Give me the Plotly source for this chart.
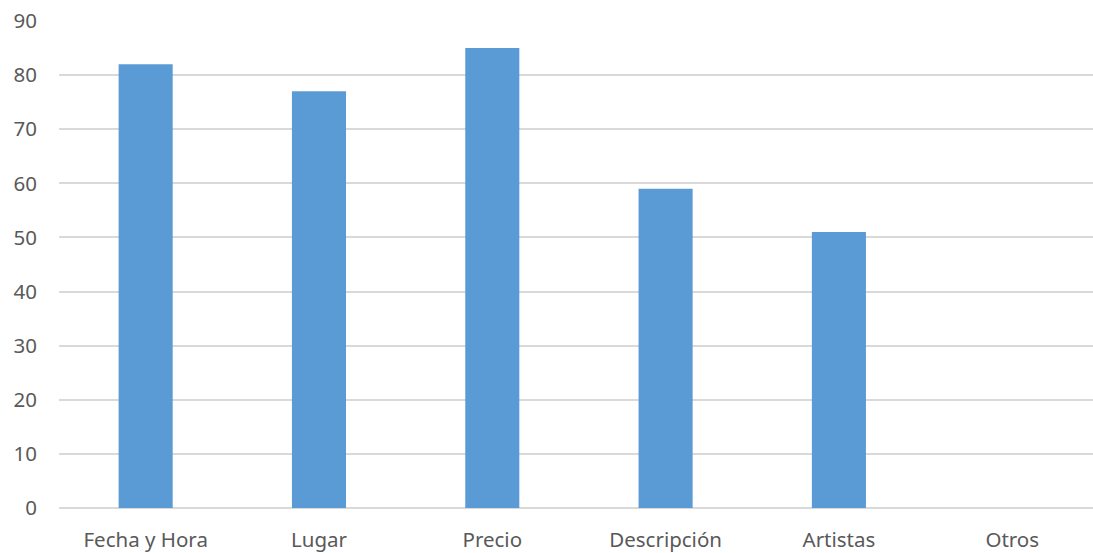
import plotly.graph_objects as go

categories = ["Fecha y Hora", "Lugar", "Precio", "Descripción", "Artistas", "Otros"]
values = [82, 77, 85, 59, 51, 0]

bar_color = "#5B9BD5"
grid_color = "#D9D9D9"
text_color = "#595959"
font_size = 20.5

fig = go.Figure(
    go.Bar(
        x=categories,
        y=values,
        marker=dict(color=bar_color, line=dict(width=0)),
        width=0.312,
    )
)

fig.update_layout(
    width=1093,
    height=553,
    margin=dict(l=59, r=0, t=21, b=45),
    paper_bgcolor="white",
    plot_bgcolor="white",
    font=dict(family="Noto Sans, Open Sans, sans-serif", size=font_size, color=text_color),
    showlegend=False,
)

fig.update_xaxes(
    range=[-0.5, 5.466],
    showgrid=False,
    showline=False,
    ticks="",
    ticklabelstandoff=17,
    tickfont=dict(size=font_size, color=text_color),
)

fig.update_yaxes(
    range=[0, 90],
    dtick=10,
    showgrid=True,
    gridcolor=grid_color,
    gridwidth=2,
    zeroline=True,
    zerolinecolor=grid_color,
    zerolinewidth=2,
    showline=False,
    ticks="",
    ticklabelstandoff=21,
    tickfont=dict(size=font_size, color=text_color),
)

fig.write_html("out.html")
